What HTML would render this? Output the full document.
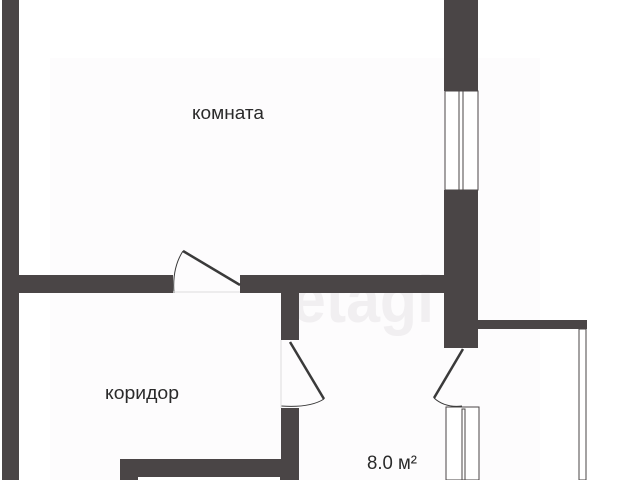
<!DOCTYPE html>
<html><head><meta charset="utf-8"><style>
html,body{margin:0;padding:0;background:#fff;}
svg{display:block}
text{font-family:"Liberation Sans",sans-serif;fill:#2a2a2a;}
</style></head><body>
<svg width="640" height="480" viewBox="0 0 640 480">
<rect x="0" y="0" width="640" height="480" fill="#fff"/>
<rect x="50" y="58" width="490" height="422" fill="#fdfcfd"/>
<text x="292" y="322" font-size="66" font-weight="bold" style="fill:#f1eff1" textLength="142" lengthAdjust="spacingAndGlyphs">etagi</text>
<g fill="#4a4546">
<rect x="2" y="0" width="17" height="480"/>
<rect x="19" y="275" width="154" height="18"/>
<rect x="240" y="275" width="206" height="18"/>
<rect x="444" y="0" width="34" height="91"/>
<rect x="444" y="190" width="34" height="158"/>
<rect x="281" y="293" width="18" height="47"/>
<rect x="281" y="408" width="18" height="72"/>
<rect x="120" y="459" width="179" height="21"/>
<rect x="478" y="320" width="109" height="9"/>
</g>
<rect x="138" y="477" width="142" height="3" fill="#fff"/>
<g fill="#fff" stroke="#4a4546" stroke-width="1">
<rect x="445" y="91" width="33" height="99"/>
<rect x="459" y="91" width="4" height="99"/>
<rect x="446" y="407" width="33" height="73"/>
<rect x="462" y="409" width="3" height="71"/>
<rect x="579" y="329" width="7" height="151"/>
</g>
<g fill="none" stroke="#3a3a3a">
<line x1="183" y1="251" x2="240" y2="285" stroke-width="2.5"/>
<path d="M174 293 Q172 268 183 251" stroke-width="1"/>
<line x1="290" y1="342" x2="324" y2="399" stroke-width="2.5"/>
<path d="M324 399 Q310 408 281 406" stroke-width="1"/>
<line x1="463" y1="349" x2="434" y2="398" stroke-width="2.5"/>
<path d="M434 398 Q445 408 462 406" stroke-width="1"/>
</g>
<line x1="173" y1="292" x2="240" y2="292" stroke="#ddd" stroke-width="1"/>
<line x1="281" y1="340" x2="281" y2="408" stroke="#ddd" stroke-width="1"/>
<text x="192" y="119" font-size="18" textLength="72" lengthAdjust="spacingAndGlyphs">комната</text>
<text x="105" y="399" font-size="18" textLength="74" lengthAdjust="spacingAndGlyphs">коридор</text>
<text x="367" y="469" font-size="19" textLength="50" lengthAdjust="spacingAndGlyphs">8.0 м²</text>
</svg>
</body></html>
